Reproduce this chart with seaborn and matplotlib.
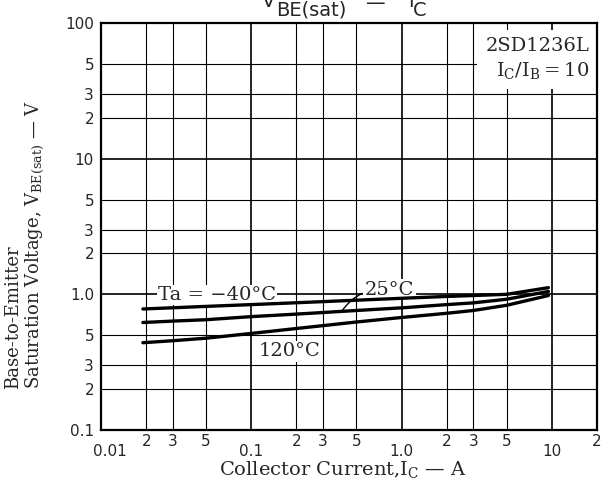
import numpy as np
import pandas as pd
import matplotlib
matplotlib.use("Agg")
import matplotlib.pyplot as plt
import matplotlib.transforms as mtransforms
import seaborn as sns

# collector current (A) and V_BE(sat) (V)
ic_points = [0.019, 0.03, 0.05, 0.1, 0.2, 0.5, 1.0, 2.0, 3.0, 5.0, 9.5]
vbe_m40 = [0.78, 0.796, 0.815, 0.84, 0.867, 0.905, 0.935, 0.965, 0.98, 1.0, 1.12]
vbe_25 = [0.62, 0.635, 0.65, 0.685, 0.715, 0.76, 0.795, 0.84, 0.865, 0.92, 1.05]
vbe_120 = [0.44, 0.455, 0.475, 0.515, 0.56, 0.625, 0.675, 0.725, 0.76, 0.83, 0.98]
temps = ["-40", "25", "120"]

x_major = [0.01, 0.1, 1, 10]
x_major_labels = ["0.01", "0.1", "1.0", "10"]
x_minor = [0.02, 0.03, 0.05, 0.2, 0.3, 0.5, 2, 3, 5, 20]
x_minor_labels = ["2", "3", "5", "2", "3", "5", "2", "3", "5", "2"]
y_major = [0.1, 1, 10, 100]
y_major_labels = ["0.1", "1.0", "10", "100"]
y_minor = [0.2, 0.3, 0.5, 2, 3, 5, 20, 30, 50]
y_minor_labels = ["2", "3", "5", "2", "3", "5", "2", "3", "5"]

df = pd.DataFrame({
    "ic": ic_points * 3,
    "vbe": vbe_m40 + vbe_25 + vbe_120,
    "ta": np.repeat(temps, len(ic_points)),
})

sns.set_style("white")
plt.rcParams["font.family"] = ["DejaVu Sans"]
plt.rcParams["mathtext.fontset"] = "dejavuserif"

fig = plt.figure(figsize=(6.06, 4.79), dpi=100)
ax = fig.add_axes([101 / 606, 1 - 430 / 479, 496 / 606, 407 / 479])

sns.lineplot(data=df, x="ic", y="vbe", hue="ta", palette=["black"] * 3,
             linewidth=2.4, legend=False, ax=ax, zorder=3)

ax.set_xscale("log")
ax.set_yscale("log")
ax.set_xlim(0.01, 20)
ax.set_ylim(0.1, 100)

ax.set_xticks(x_major)
ax.set_xticklabels(x_major_labels)
ax.set_xticks(x_minor, minor=True)
ax.set_xticklabels(x_minor_labels, minor=True)
ax.set_yticks(y_major)
ax.set_yticklabels(y_major_labels)
ax.set_yticks(y_minor, minor=True)
ax.set_yticklabels(y_minor_labels, minor=True)

ax.tick_params(axis="x", which="major", length=0, pad=10, labelsize=11)
ax.tick_params(axis="x", which="minor", length=0, pad=3, labelsize=11)
ax.tick_params(axis="y", which="both", length=0, pad=5, labelsize=11)

# first x label sits a bit inside, as in the scan
first = ax.get_xticklabels()[0]
first.set_transform(first.get_transform()
                    + mtransforms.ScaledTranslation(9 / 100, 0, fig.dpi_scale_trans))

ax.grid(which="major", color="black", linewidth=1.2)
ax.grid(which="minor", color="black", linewidth=0.8)
for s in ax.spines.values():
    s.set_color("black")
    s.set_linewidth(1.6)

ax.set_xlabel("")
ax.set_ylabel("")

serif = ["DejaVu Serif"]
fig.text(343 / 606, 1 - 470 / 479, "Collector Current,I$_\\mathrm{C}$ — A",
         family=serif, fontsize=14, ha="center", va="center")
fig.text(25 / 606, 1 - 389 / 479,
         "Base-to-Emitter\nSaturation Voltage, V$_\\mathrm{BE(sat)}$ — V",
         family=serif, fontsize=13, rotation=90, ha="center", va="bottom",
         multialignment="left", linespacing=1.05)

# title, clipped at the top edge like the scan
fig.text(262 / 606, 1 - 7 / 479, "V", fontsize=14, ha="left", va="baseline")
fig.text(276 / 606, 1 - 16 / 479, "BE(sat)", fontsize=14, ha="left", va="baseline")
fig.text(376 / 606, 1 - 9 / 479, "—", fontsize=14, ha="center", va="baseline")
fig.text(408 / 606, 1 - 7 / 479, "I", fontsize=14, ha="left", va="baseline")
fig.text(413 / 606, 1 - 16 / 479, "C", fontsize=14, ha="left", va="baseline")

white = dict(facecolor="white", edgecolor="none", pad=1.0)
ax.text(0.024, 0.99, "Ta = −40°C", family=serif, fontsize=14,
        ha="left", va="center", bbox=white, zorder=2)
ax.text(0.112, 0.38, "120°C", family=serif, fontsize=14,
        ha="left", va="center", bbox=white, zorder=2)
ax.annotate("25°C", xy=(0.4, 0.75), xytext=(0.57, 1.08),
            family=serif, fontsize=14, ha="left", va="center", zorder=2,
            bbox=white,
            arrowprops=dict(arrowstyle="-", color="black", lw=1,
                            connectionstyle="arc3,rad=0.3", shrinkA=1, shrinkB=0))
ax.text(0.985, 0.965,
        "2SD1236L\nI$_\\mathrm{C}$/I$_\\mathrm{B}$\u2009=\u200910",
        transform=ax.transAxes, family=serif, fontsize=14, ha="right", va="top",
        linespacing=1.3, zorder=2,
        bbox=dict(facecolor="white", edgecolor="none", pad=6))

fig.savefig("out.png", dpi=100)
